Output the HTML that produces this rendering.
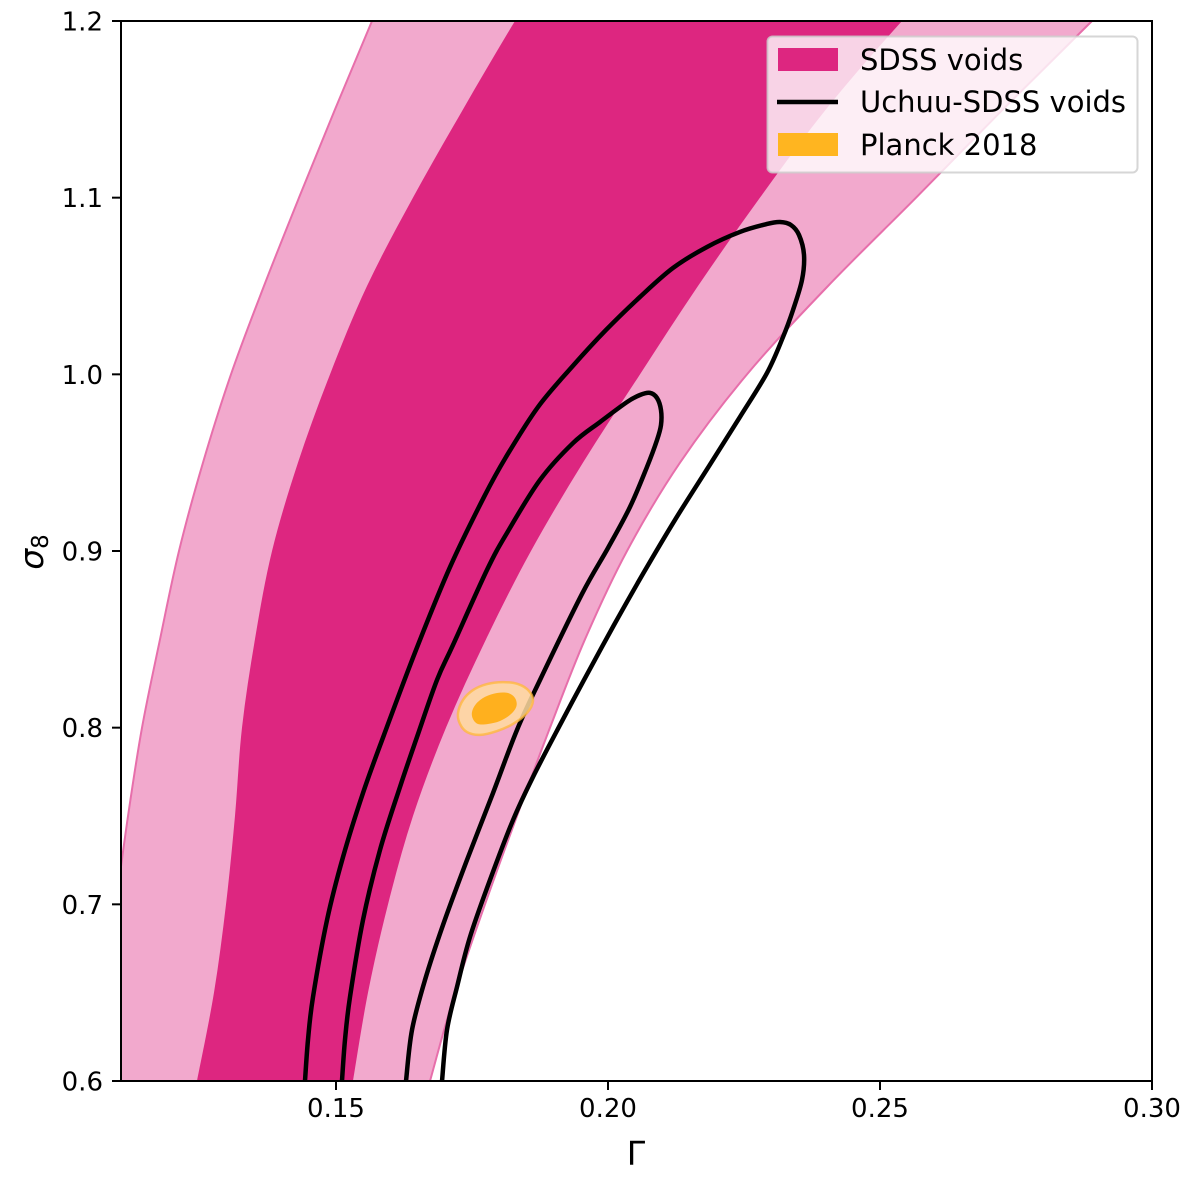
<!DOCTYPE html>
<html>
<head>
<meta charset="utf-8">
<style>
html,body{margin:0;padding:0;background:#fff;}
svg{display:block;}
text{font-family:"DejaVu Sans","Liberation Sans",sans-serif;fill:#000;}
</style>
</head>
<body>
<svg id="chart" xmlns="http://www.w3.org/2000/svg" width="1200" height="1192" viewBox="0 0 1200 1192">
<defs><clipPath id="plot-clip"><rect x="121" y="21" width="1031" height="1060"/></clipPath></defs>
<rect width="1200" height="1192" fill="#fff"/>
<g id="plot" clip-path="url(#plot-clip)"></g>
<g id="axes"></g>
<g>
<rect x="767.5" y="36.5" width="370" height="136" rx="5" fill="#fff" fill-opacity="0.8" stroke="#ccc" stroke-opacity="0.8" stroke-width="2"/>
<rect x="778" y="48" width="60" height="23" fill="#dd2680"/>
<line x1="777" y1="102" x2="838" y2="102" stroke="#000" stroke-width="4.5"/>
<rect x="778" y="133" width="60" height="23" fill="#ffb520"/>
<text x="860" y="70" font-size="29">SDSS voids</text>
<text x="860" y="112" font-size="29">Uchuu-SDSS voids</text>
<text x="860" y="155" font-size="29">Planck 2018</text>
</g>
<text x="636" y="1165" font-size="33" text-anchor="middle">Γ</text>
<text transform="translate(43,552) rotate(-90)" font-size="33" text-anchor="middle" font-style="italic">σ<tspan font-style="normal" font-size="23" dy="5">8</tspan></text>
</svg>
<script>
var xTicks = [0.15, 0.20, 0.25, 0.30];
var xTickLabels = ['0.15', '0.20', '0.25', '0.30'];
var yTicks = [0.6, 0.7, 0.8, 0.9, 1.0, 1.1, 1.2];
var yTickLabels = ['0.6', '0.7', '0.8', '0.9', '1.0', '1.1', '1.2'];

var sdssSigma = [0.6, 0.65, 0.7, 0.75, 0.8, 0.85, 0.9, 0.95, 1.0, 1.05, 1.1, 1.15, 1.2, 1.25];
var sdssOuterLeft = [0.1057, 0.10754, 0.10956, 0.11177, 0.11434, 0.11765, 0.12114, 0.12555, 0.1307, 0.13676, 0.1432, 0.14982, 0.15662, 0.1636];
var sdssOuterRight = [0.16728, 0.17187, 0.17739, 0.18327, 0.18934, 0.19577, 0.20349, 0.21323, 0.22555, 0.24044, 0.25662, 0.27261, 0.28897, 0.30551];
var sdssInnerLeft = [0.12445, 0.12757, 0.12978, 0.13143, 0.13272, 0.1351, 0.13824, 0.14301, 0.1489, 0.1557, 0.16415, 0.17335, 0.1829, 0.19301];
var sdssInnerRight = [0.15312, 0.15588, 0.15956, 0.16415, 0.17022, 0.17757, 0.18584, 0.1954, 0.20588, 0.21654, 0.22794, 0.24007, 0.25404, 0.2693];

var uchuuOuterGamma = [0.1443, 0.14485, 0.14577, 0.14835, 0.15129, 0.15496, 0.15882, 0.16471, 0.17096, 0.17721, 0.18125, 0.18713, 0.19338, 0.19963, 0.20588, 0.21195, 0.2182, 0.22426, 0.22923, 0.23162, 0.23364, 0.23511, 0.23603, 0.23566, 0.23401, 0.23217, 0.22923, 0.22426, 0.21847, 0.21231, 0.20653, 0.2011, 0.19559, 0.19136, 0.18621, 0.18254, 0.17831, 0.17463, 0.17224, 0.1704, 0.16949];
var uchuuOuterSigma = [0.6, 0.6232, 0.6475, 0.6911, 0.7268, 0.763, 0.7959, 0.844, 0.8909, 0.9306, 0.9532, 0.9815, 1.0042, 1.0251, 1.0438, 1.0602, 1.0721, 1.0806, 1.0851, 1.0862, 1.0845, 1.0789, 1.0676, 1.0534, 1.0364, 1.0211, 1.0008, 0.9759, 0.9476, 0.9176, 0.8876, 0.8581, 0.827, 0.8026, 0.7721, 0.7477, 0.7138, 0.6815, 0.6532, 0.6289, 0.6];
var uchuuInnerGamma = [0.1511, 0.15165, 0.15257, 0.15496, 0.15809, 0.16176, 0.16489, 0.16857, 0.17151, 0.17776, 0.18143, 0.1875, 0.19357, 0.19853, 0.20349, 0.20588, 0.20772, 0.20901, 0.20974, 0.20974, 0.20901, 0.20717, 0.20404, 0.2, 0.19522, 0.1875, 0.18327, 0.17886, 0.17408, 0.16967, 0.16636, 0.16397, 0.16287];
var uchuuInnerSigma = [0.6, 0.6232, 0.6475, 0.6911, 0.7308, 0.7664, 0.7947, 0.827, 0.8468, 0.8893, 0.9102, 0.9402, 0.9611, 0.973, 0.9843, 0.9883, 0.9895, 0.9866, 0.9798, 0.9713, 0.9628, 0.9476, 0.9249, 0.9017, 0.8757, 0.827, 0.7987, 0.763, 0.7251, 0.6883, 0.6572, 0.6289, 0.6];

var planckOuterGamma = [0.17243, 0.17335, 0.17518, 0.17776, 0.1807, 0.18346, 0.18548, 0.18621, 0.18511, 0.18254, 0.1796, 0.17647, 0.17408, 0.17279];
var planckOuterSigma = [0.8083, 0.8157, 0.8213, 0.8247, 0.8258, 0.8247, 0.8208, 0.8151, 0.8083, 0.8021, 0.7981, 0.7959, 0.7975, 0.8021];
var planckInnerGamma = [0.175, 0.17573, 0.17739, 0.1796, 0.18162, 0.1829, 0.18318, 0.18217, 0.18015, 0.17794, 0.1761, 0.17518];
var planckInnerSigma = [0.8089, 0.8134, 0.8174, 0.8196, 0.8196, 0.8168, 0.8123, 0.8077, 0.8038, 0.8021, 0.8021, 0.8049];

var SVGNS = 'http://www.w3.org/2000/svg';
function xScale(v) { return 336 + (v - 0.15) * 5440; }
function yScale(v) { return 1081 - (v - 0.6) * 1766.667; }

function toPoints(gammas, sigmas) {
  var pts = [];
  for (var i = 0; i < gammas.length; i++) pts.push([xScale(gammas[i]), yScale(sigmas[i])]);
  return pts;
}
function smooth(pts, closed) {
  var n = pts.length, d = '';
  function at(i) { return closed ? pts[(i + n) % n] : pts[Math.max(0, Math.min(n - 1, i))]; }
  var segs = closed ? n : n - 1;
  for (var i = 0; i < segs; i++) {
    var p0 = at(i - 1), p1 = at(i), p2 = at(i + 1), p3 = at(i + 2);
    d += ' C' + (p1[0] + (p2[0] - p0[0]) / 6).toFixed(2) + ' ' + (p1[1] + (p2[1] - p0[1]) / 6).toFixed(2) + ' ' +
      (p2[0] - (p3[0] - p1[0]) / 6).toFixed(2) + ' ' + (p2[1] - (p3[1] - p1[1]) / 6).toFixed(2) + ' ' +
      p2[0].toFixed(2) + ' ' + p2[1].toFixed(2);
  }
  return d;
}
function linePath(pts) {
  return 'M' + pts[0][0].toFixed(2) + ' ' + pts[0][1].toFixed(2) + smooth(pts, false);
}
function closedPath(pts) {
  return 'M' + pts[0][0].toFixed(2) + ' ' + pts[0][1].toFixed(2) + smooth(pts, true) + 'Z';
}
function bandPath(left, right, sigmas) {
  var a = toPoints(left, sigmas);
  var b = toPoints(right, sigmas).reverse();
  return linePath(a) + ' L' + b[0][0].toFixed(2) + ' ' + b[0][1].toFixed(2) + smooth(b, false) + 'Z';
}
function addPath(parent, d, fill, stroke, width, extra) {
  var el = document.createElementNS(SVGNS, 'path');
  el.setAttribute('d', d);
  el.setAttribute('fill', fill);
  el.setAttribute('stroke', stroke);
  el.setAttribute('stroke-width', width);
  el.setAttribute('stroke-linejoin', 'round');
  if (extra) for (var k in extra) el.setAttribute(k, extra[k]);
  parent.appendChild(el);
  return el;
}

var plot = document.getElementById('plot');
var axes = document.getElementById('axes');

var band2 = addPath(plot, bandPath(sdssOuterLeft, sdssOuterRight, sdssSigma), '#f2a9cd', '#e76fab', 2);


var band1 = addPath(plot, bandPath(sdssInnerLeft, sdssInnerRight, sdssSigma), '#dd2680', 'none', 0);



var uOuter = addPath(plot, linePath(toPoints(uchuuOuterGamma, uchuuOuterSigma)), 'none', '#000', 4.5);


var uInner = addPath(plot, linePath(toPoints(uchuuInnerGamma, uchuuInnerSigma)), 'none', '#000', 4.5);



var pOuter = addPath(plot, closedPath(toPoints(planckOuterGamma, planckOuterSigma)), '#ffdba0', '#ffb83a', 2.5, {'fill-opacity': '0.86', 'stroke-opacity': '0.75'});


var pInner = addPath(plot, closedPath(toPoints(planckInnerGamma, planckInnerSigma)), '#ffb01e', 'none', 0);



xTicks.forEach(function (v, i) {
  var px = xScale(v);
  var t = document.createElementNS(SVGNS, 'line');
  t.setAttribute('x1', px); t.setAttribute('x2', px);
  t.setAttribute('y1', 1081); t.setAttribute('y2', 1090);
  t.setAttribute('stroke', '#000'); t.setAttribute('stroke-width', 2);
  
  
  axes.appendChild(t);
  var l = document.createElementNS(SVGNS, 'text');
  l.setAttribute('x', px); l.setAttribute('y', 1117);
  l.setAttribute('font-size', '26');
  l.setAttribute('text-anchor', 'middle');
  l.textContent = xTickLabels[i];
  
  
  axes.appendChild(l);
});
yTicks.forEach(function (v, i) {
  var py = yScale(v);
  var t = document.createElementNS(SVGNS, 'line');
  t.setAttribute('x1', 112); t.setAttribute('x2', 121);
  t.setAttribute('y1', py); t.setAttribute('y2', py);
  t.setAttribute('stroke', '#000'); t.setAttribute('stroke-width', 2);
  
  
  axes.appendChild(t);
  var l = document.createElementNS(SVGNS, 'text');
  l.setAttribute('x', 103); l.setAttribute('y', py + 9.5);
  l.setAttribute('font-size', '26');
  l.setAttribute('text-anchor', 'end');
  l.textContent = yTickLabels[i];
  
  
  axes.appendChild(l);
});
var frame = document.createElementNS(SVGNS, 'rect');
frame.setAttribute('x', 121); frame.setAttribute('y', 21);
frame.setAttribute('width', 1031); frame.setAttribute('height', 1060);
frame.setAttribute('fill', 'none');
frame.setAttribute('stroke', '#000');
frame.setAttribute('stroke-width', 2);


axes.appendChild(frame);
</script>
</body>
</html>
